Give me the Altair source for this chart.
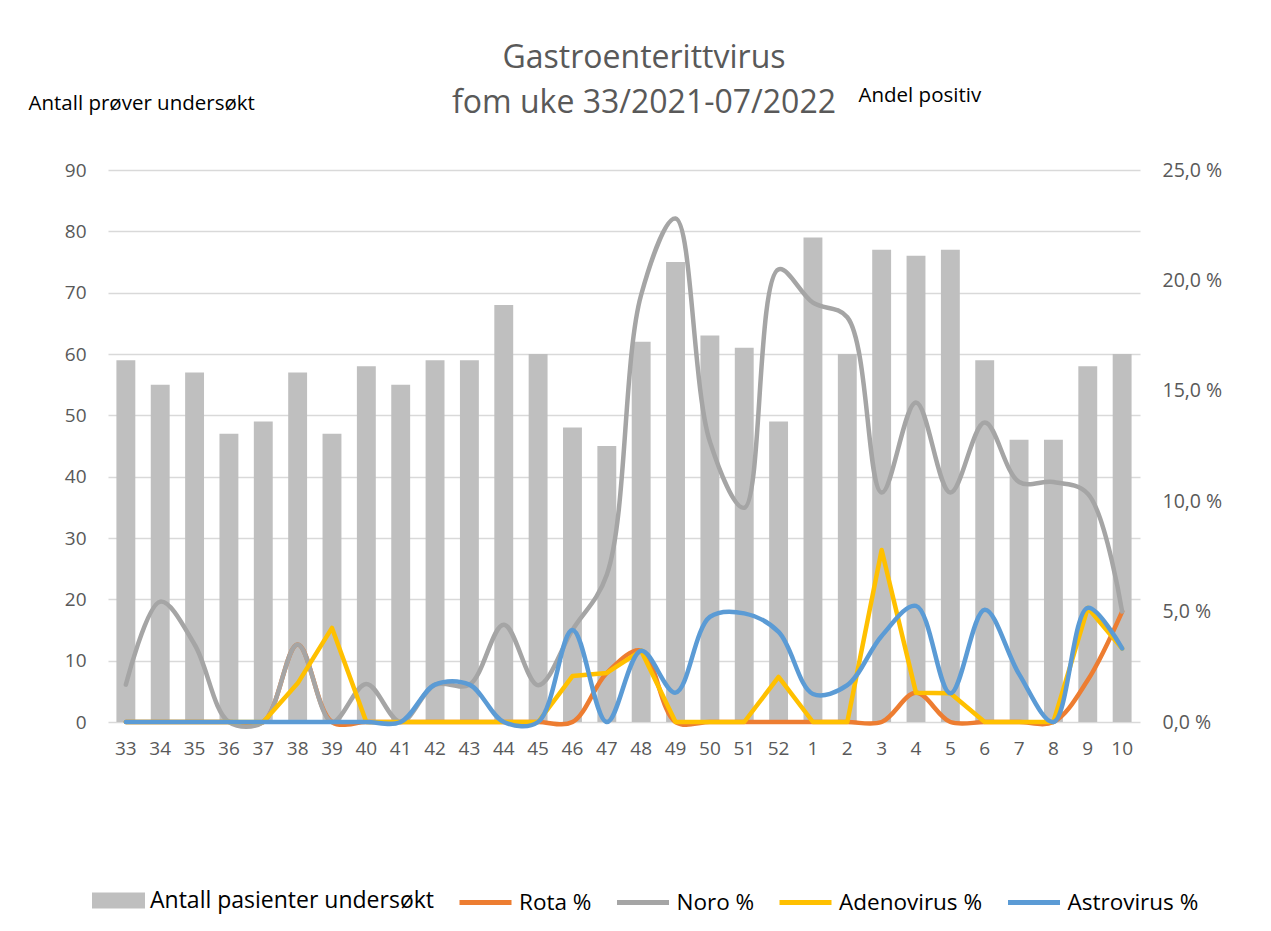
import altair as alt
import pandas as pd

FONT = "Open Sans"

weeks = ["33", "34", "35", "36", "37", "38", "39", "40", "41", "42", "43", "44", "45", "46", "47",
         "48", "49", "50", "51", "52", "1", "2", "3", "4", "5", "6", "7", "8", "9", "10"]
patients = [59, 55, 57, 47, 49, 57, 47, 58, 55, 59, 59, 68, 60, 48, 45,
            62, 75, 63, 61, 49, 79, 60, 77, 76, 77, 59, 46, 46, 58, 60]
rota = [0, 0, 0, 0, 0, 3.51, 0, 0, 0, 0, 0, 0, 0, 0, 2.22,
        3.23, 0, 0, 0, 0, 0, 0, 0, 1.32, 0, 0, 0, 0, 1.9, 5.0]
noro = [1.69, 5.45, 3.51, 0, 0, 3.51, 0, 1.72, 0, 1.69, 1.69, 4.41, 1.67, 4.17, 6.67,
        19.35, 22.8, 12.7, 9.7, 20.5, 18.99, 18.33, 10.39, 14.47, 10.39, 13.56, 10.87, 10.87, 10.34, 5.0]
adeno = [0, 0, 0, 0, 0, 1.75, 4.26, 0, 0, 0, 0, 0, 0, 2.08, 2.22,
         3.23, 0, 0, 0, 2.04, 0, 0, 7.79, 1.32, 1.3, 0, 0, 0, 5.17, 3.33]
astro = [0, 0, 0, 0, 0, 0, 0, 0, 0, 1.69, 1.69, 0, 0, 4.17, 0,
         3.23, 1.33, 4.76, 4.92, 4.08, 1.27, 1.67, 3.9, 5.26, 1.3, 5.08, 2.17, 0, 5.17, 3.33]

bar_label = "Antall pasienter undersøkt"
series_names = ["Rota %", "Noro %", "Adenovirus %", "Astrovirus %"]
series_values = [rota, noro, adeno, astro]
series_colors = ["#ED7D31", "#A5A5A5", "#FFC000", "#5B9BD5"]
smooth = [True, True, False, True]
title_lines = ["Gastroenterittvirus", "fom uke 33/2021-07/2022"]
left_title = "Antall prøver undersøkt"
right_title = "Andel positiv"

bars_df = pd.DataFrame({"uke": weeks, "antall": patients, "serie": bar_label})
lines_df = pd.concat(
    [pd.DataFrame({"uke": weeks, "verdi": v, "serie": n}) for n, v in zip(series_names, series_values)],
    ignore_index=True,
)

x_enc = alt.X(
    "uke:N", sort=weeks,
    scale=alt.Scale(paddingInner=0.45, paddingOuter=0.245),
    axis=alt.Axis(title=None, labelAngle=0, ticks=False, domain=False,
                  labelColor="#595959", labelFontSize=19, labelFont=FONT, labelPadding=17),
)

bars = alt.Chart(bars_df).mark_bar().encode(
    x=x_enc,
    y=alt.Y("antall:Q", scale=alt.Scale(domain=[0, 90], nice=False),
            axis=alt.Axis(values=list(range(0, 91, 10)), title=left_title, titleAngle=0,
                          titleX=-80, titleY=-67, titleAlign="left", titleBaseline="middle",
                          titleFontSize=20.5, titleFontWeight="normal", titleColor="#000000", titleFont=FONT,
                          labelColor="#595959", labelFontSize=19, labelFont=FONT, labelPadding=22,
                          ticks=False, domain=False, gridColor="#D9D9D9", gridWidth=1.3)),
    fill=alt.Fill("serie:N", scale=alt.Scale(domain=[bar_label], range=["#BFBFBF"]),
                  legend=alt.Legend(title=None, orient="none", legendX=-16, legendY=704,
                                    symbolType="M-1,-0.3H1V0.3H-1Z", symbolSize=2809,
                                    symbolStrokeWidth=0, labelFontSize=23, labelFont=FONT,
                                    labelColor="#000000", labelOffset=5, labelLimit=500, padding=0)),
)

y_lines = alt.Y("verdi:Q", scale=alt.Scale(domain=[0, 25], nice=False),
                axis=alt.Axis(orient="right", values=[0, 5, 10, 15, 20, 25], grid=False,
                              labelExpr="replace(format(datum.value, '.1f'), '.', ',') + ' %'",
                              title=right_title, titleAngle=0, titleX=-282, titleY=-75,
                              titleAlign="left", titleBaseline="middle", titleFontSize=20.5,
                              titleFontWeight="normal", titleColor="#000000", titleFont=FONT,
                              labelColor="#595959", labelFontSize=19.5, labelFont=FONT, labelPadding=22,
                              ticks=False, domain=False))
stroke_enc = alt.Stroke("serie:N", scale=alt.Scale(domain=series_names, range=series_colors),
                        legend=alt.Legend(title=None, orient="none", legendX=349, legendY=704,
                                          direction="horizontal", columns=4, symbolType="stroke",
                                          symbolSize=2704, symbolStrokeWidth=5, labelFontSize=22.5,
                                          labelFont=FONT, labelColor="#000000", labelOffset=5,
                                          labelLimit=500, columnPadding=14.5, padding=0))

line_layers = []
for name, sm in zip(series_names, smooth):
    if sm:
        mk = alt.Chart(lines_df).mark_line(strokeWidth=4.5, interpolate="catmull-rom",
                                           strokeCap="round", strokeJoin="round")
    else:
        mk = alt.Chart(lines_df).mark_line(strokeWidth=4.5, strokeCap="round", strokeJoin="round")
    line_layers.append(mk.transform_filter(alt.datum.serie == name).encode(x=x_enc, y=y_lines, stroke=stroke_enc))

lines = alt.layer(*line_layers)

chart = alt.layer(bars, lines).resolve_scale(y="independent").properties(
    width=1032, height=552,
    autosize=alt.AutoSizeParams(type="none"),
    padding={"left": 100, "top": 162, "right": 122, "bottom": 210},
    title=alt.TitleParams(title_lines, fontSize=32, font=FONT, color="#595959", fontWeight="normal",
                          anchor="middle", dx=20, dy=85, offset=50, lineHeight=45),
).configure_view(stroke=None)

chart.save("out.html", embed_options={"renderer": "svg", "actions": False})
